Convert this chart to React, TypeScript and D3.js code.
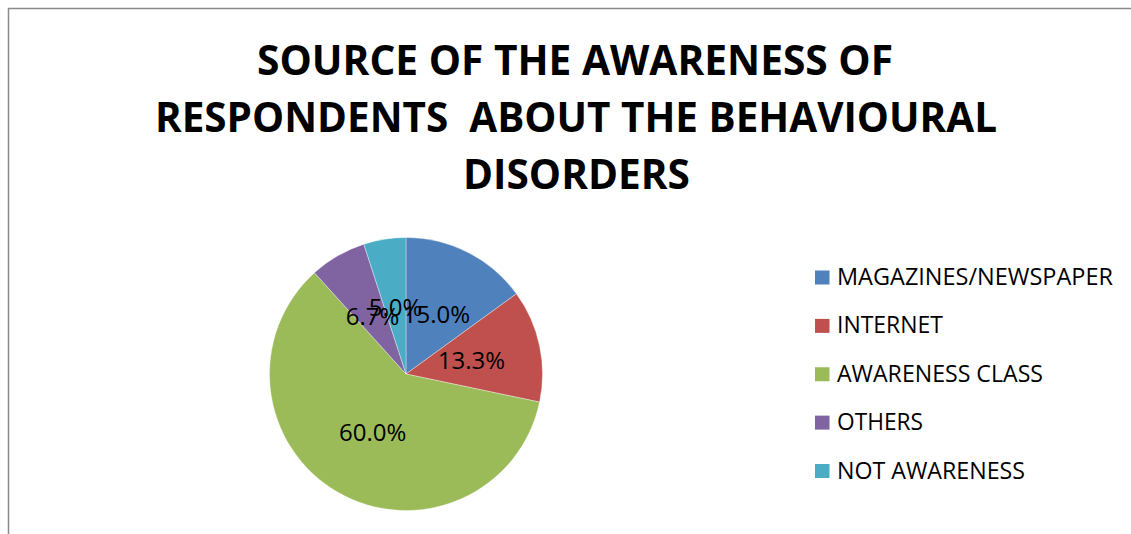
import React from "react";
import * as d3 from "d3";

const titleLines = ["SOURCE OF THE AWARENESS OF", "RESPONDENTS  ABOUT THE BEHAVIOURAL", "DISORDERS"];
const categories = ["MAGAZINES/NEWSPAPER", "INTERNET", "AWARENESS CLASS", "OTHERS", "NOT AWARENESS"];
const values = [15.0, 13.3, 60.0, 6.7, 5.0];
const colors = ["#4F81BD", "#C0504D", "#9BBB59", "#8064A2", "#4BACC6"];

const W = 1131;
const H = 534;
const CX = 406;
const CY = 374;
const R = 136.5;
const LABEL_R = 67;

// layout of title lines (start x, end x, baseline)
const titleLayout = [
  { x0: 257, x1: 893, y: 75 },
  { x0: 155, x1: 997, y: 131.5 },
  { x0: 463, x1: 690, y: 188.5 },
];
const legendEnds = [1113, 943, 1043, 923, 1025];

export default function App() {
  const total = d3.sum(values);
  const pie = d3.pie<number>().sort(null).value((d) => d);
  const arcs = pie(values);
  const arc = d3.arc<d3.PieArcDatum<number>>().innerRadius(0).outerRadius(R);
  const labelArc = d3.arc<d3.PieArcDatum<number>>().innerRadius(LABEL_R).outerRadius(LABEL_R);
  const fmt = d3.format(".1%");
  const legendY = d3.scalePoint<string>().domain(categories).range([277.5, 471]);

  return (
    <div style={{ position: "absolute", left: 0, top: 0, width: W, height: H, background: "#fff" }}>
      <svg width={W} height={H} style={{ display: "block" }}>
        <rect x={0} y={0} width={W} height={H} fill="#fff" />
        <path d={`M8.5,${H} V8.5 H${W}`} fill="none" stroke="#8a8a8a" strokeWidth={1.5} />
        {titleLines.map((t, i) => (
          <text
            key={i}
            x={titleLayout[i].x0}
            y={titleLayout[i].y}
            textLength={titleLayout[i].x1 - titleLayout[i].x0}
            lengthAdjust="spacingAndGlyphs"
            fontFamily="'Open Sans', sans-serif"
            fontWeight={700}
            fontSize={42}
            fill="#000"
            style={{ whiteSpace: "pre" }}
          >
            {t}
          </text>
        ))}
        <g transform={`translate(${CX},${CY})`}>
          {arcs.map((a, i) => (
            <path key={i} d={arc(a) || ""} fill={colors[i]} stroke="#ffffff" strokeWidth={0.6} strokeOpacity={0.6} />
          ))}
          {arcs.map((a, i) => {
            const [lx, ly] = labelArc.centroid(a);
            return (
              <text
                key={i}
                x={lx}
                y={ly}
                textAnchor="middle"
                dy="0.36em"
                fontFamily="'Open Sans', sans-serif"
                fontSize={24}
                fill="#000"
              >
                {fmt(values[i] / total)}
              </text>
            );
          })}
        </g>
        {categories.map((c, i) => {
          const y = legendY(c) as number;
          return (
            <g key={c}>
              <rect x={815} y={y - 7} width={14.5} height={14} fill={colors[i]} />
              <text
                x={837}
                y={y + 7.5}
                textLength={legendEnds[i] - 837}
                lengthAdjust="spacingAndGlyphs"
                fontFamily="'Open Sans', sans-serif"
                fontSize={23}
                fill="#000"
              >
                {c}
              </text>
            </g>
          );
        })}
      </svg>
    </div>
  );
}
